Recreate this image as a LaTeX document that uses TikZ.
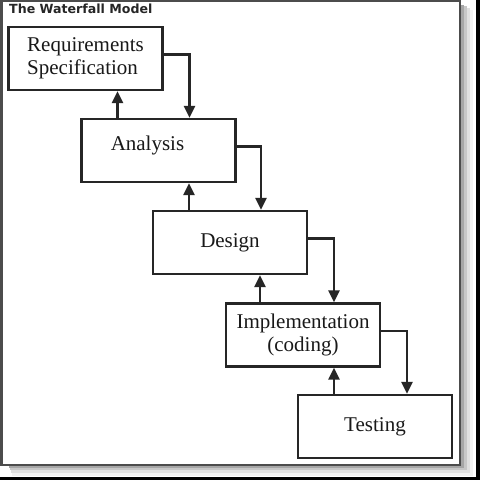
\documentclass[tikz,border=0pt]{standalone}
\usepackage{fontspec}
\setmainfont{Liberation Serif}
\newfontfamily\titlefont{DejaVu Sans}
\usetikzlibrary{arrows.meta,calc}
\tikzset{
  phase/.style={draw=black!85, line width=2.3pt, minimum width=154pt, minimum height=63pt, inner sep=0pt,
    font=\fontsize{21}{23}\selectfont, text=black!90},
  arr/.style={draw=black!85, line width=2.3pt, -{Triangle[width=11pt,length=12pt]}}
}
\begin{document}
\begin{tikzpicture}[x=1pt,y=-1pt]
\useasboundingbox (0,0) rectangle (480,480);
\fill[white] (0,0) rectangle (480,480);
% black edges
\fill[black] (476,0) rectangle (480,480);
\fill[black] (0,477) rectangle (480,480);
% shadow
\fill[black!5] (12,10) rectangle (473,476);
\fill[black!12] (11,8) rectangle (470,473);
\fill[black!22] (10,6) rectangle (467,470);
\fill[black!35] (9,5) rectangle (464,468);
% frame
\draw[fill=white, draw=black!70, line width=2.5pt] (1.5,1) rectangle (460,465);
% title
\node[anchor=base west, inner sep=0pt, font=\titlefont\bfseries\fontsize{12.6}{14}\selectfont, text=black!85] (title) at (9,13) {The Waterfall Model};
% phases
\node[phase, align=left] (req) at (85.5,58.5) {Requirements\\Specification};
\node[phase, label={[xshift=-11pt,yshift=5pt, font=\fontsize{21}{23}\selectfont, text=black!90]center:Analysis}] (ana) at (158.5,150.5) {};
\node[phase] (des) at (230,242.5) {Design};
\node[phase, align=center] (imp) at (303,335) {Implementation\\(coding)};
\node[phase] (tes) at (375,426.5) {Testing};
% downward flow
\draw[arr] ([yshift=4pt]req.east) -| ([xshift=31pt]ana.north);
\draw[arr] ([yshift=4pt]ana.east) -| ([xshift=31pt]des.north);
\draw[arr] ([yshift=4pt]des.east) -| ([xshift=31pt]imp.north);
\draw[arr] ([yshift=4pt]imp.east) -| ([xshift=32pt]tes.north);
% upward feedback
\draw[arr] ([xshift=-41pt]ana.north) -- ([xshift=-41pt]ana.north |- req.south);
\draw[arr] ([xshift=-41pt]des.north) -- ([xshift=-41pt]des.north |- ana.south);
\draw[arr] ([xshift=-43pt]imp.north) -- ([xshift=-43pt]imp.north |- des.south);
\draw[arr] ([xshift=-41pt]tes.north) -- ([xshift=-41pt]tes.north |- imp.south);
\end{tikzpicture}
\end{document}
